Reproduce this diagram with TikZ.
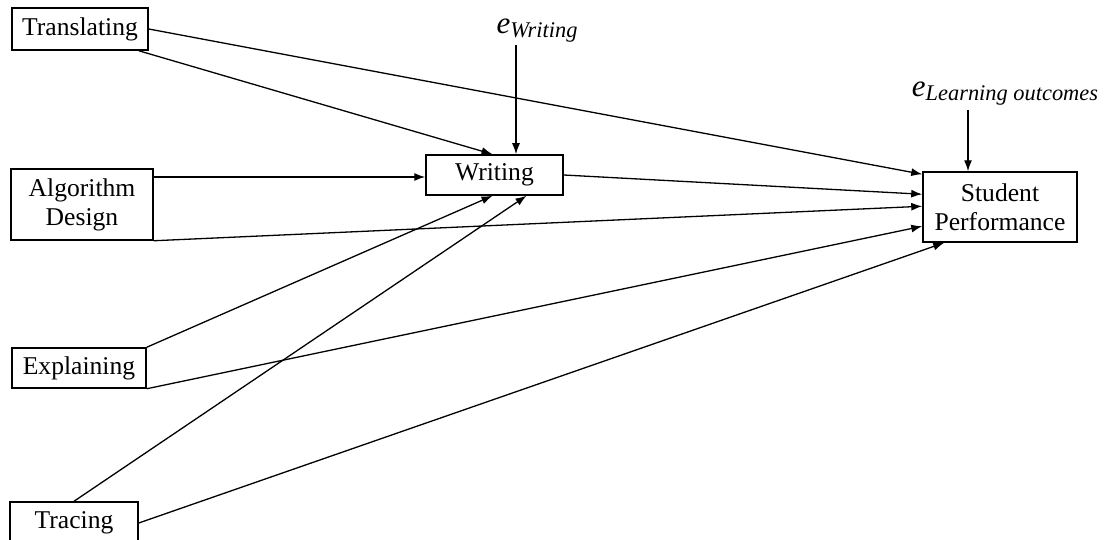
\documentclass[tikz,border=0pt]{standalone}
\usepackage{fontspec}
\setmainfont{Liberation Serif}
\usepackage{tikz}
\usetikzlibrary{arrows.meta,positioning}
\tikzstyle{var}=[draw,line width=0.75pt,fill=white,align=center,inner sep=0pt,font=\fontsize{12.8}{14.5}\selectfont]
\tikzstyle{err}=[inner sep=0pt]
\newcommand{\errterm}[1]{{\fontsize{15.5}{18}\selectfont\itshape e}\raisebox{-0.45ex}{\fontsize{11.2}{12}\selectfont\itshape #1}}

\begin{document}
\begin{tikzpicture}[x=0.5pt,y=-0.5pt,line width=0.65pt,>={Latex[length=5.5pt,width=4pt]}]
\useasboundingbox (0,0) rectangle (1108,540);
\draw (80, 29) node [var,minimum width=68pt,minimum height=21pt] (trans) {Translating};
\draw (82, 204.5) node [var,minimum width=71pt,minimum height=35.5pt] (algo) {Algorithm\\Design};
\draw (79, 368) node [var,minimum width=67pt,minimum height=20pt] (expl) {Explaining};
\draw (74, 523) node [var,minimum width=64pt,minimum height=21pt] (trac) {Tracing};
\draw (494.5, 175) node [var,minimum width=68.5pt,minimum height=20pt] (writ) {Writing};
\draw (1000, 207) node [var,minimum width=77pt,minimum height=35pt] (stud) {Student\\Performance};
\draw (537, 31) node [err] (ew) {\errterm{Writing}};
\draw (1005, 94) node [err] (el) {\errterm{Learning outcomes}};
% error terms
\coordinate (ewtail) at (516, 45);
\coordinate (eltail) at (968, 110);
\draw[->] (ewtail) -- (ewtail |- writ.north);
\draw[->] (eltail) -- (eltail |- stud.north);
% paths into writing
\draw[->] ([xshift=-5pt]trans.south east) -- ([xshift=-1pt]writ.north);
\draw[->] ([yshift=13.75pt]algo.east) -- ([yshift=-1pt]writ.west);
\draw[->] (expl.north east) -- ([xshift=-1pt]writ.south);
\draw[->] (trac.north) -- ([xshift=16pt]writ.south);
% paths into student performance
\draw[->] (trans.east) -- ([yshift=-1.5pt]stud.north west);
\draw[->] (writ.east) -- ([yshift=-11.5pt]stud.north west);
\draw[->] (algo.south east) -- ([yshift=-17.5pt]stud.north west);
\draw[->] (expl.south east) -- ([yshift=-27.5pt]stud.north west);
\draw[->] (trac.east) -- ([xshift=11pt]stud.south west);
\end{tikzpicture}
\end{document}
